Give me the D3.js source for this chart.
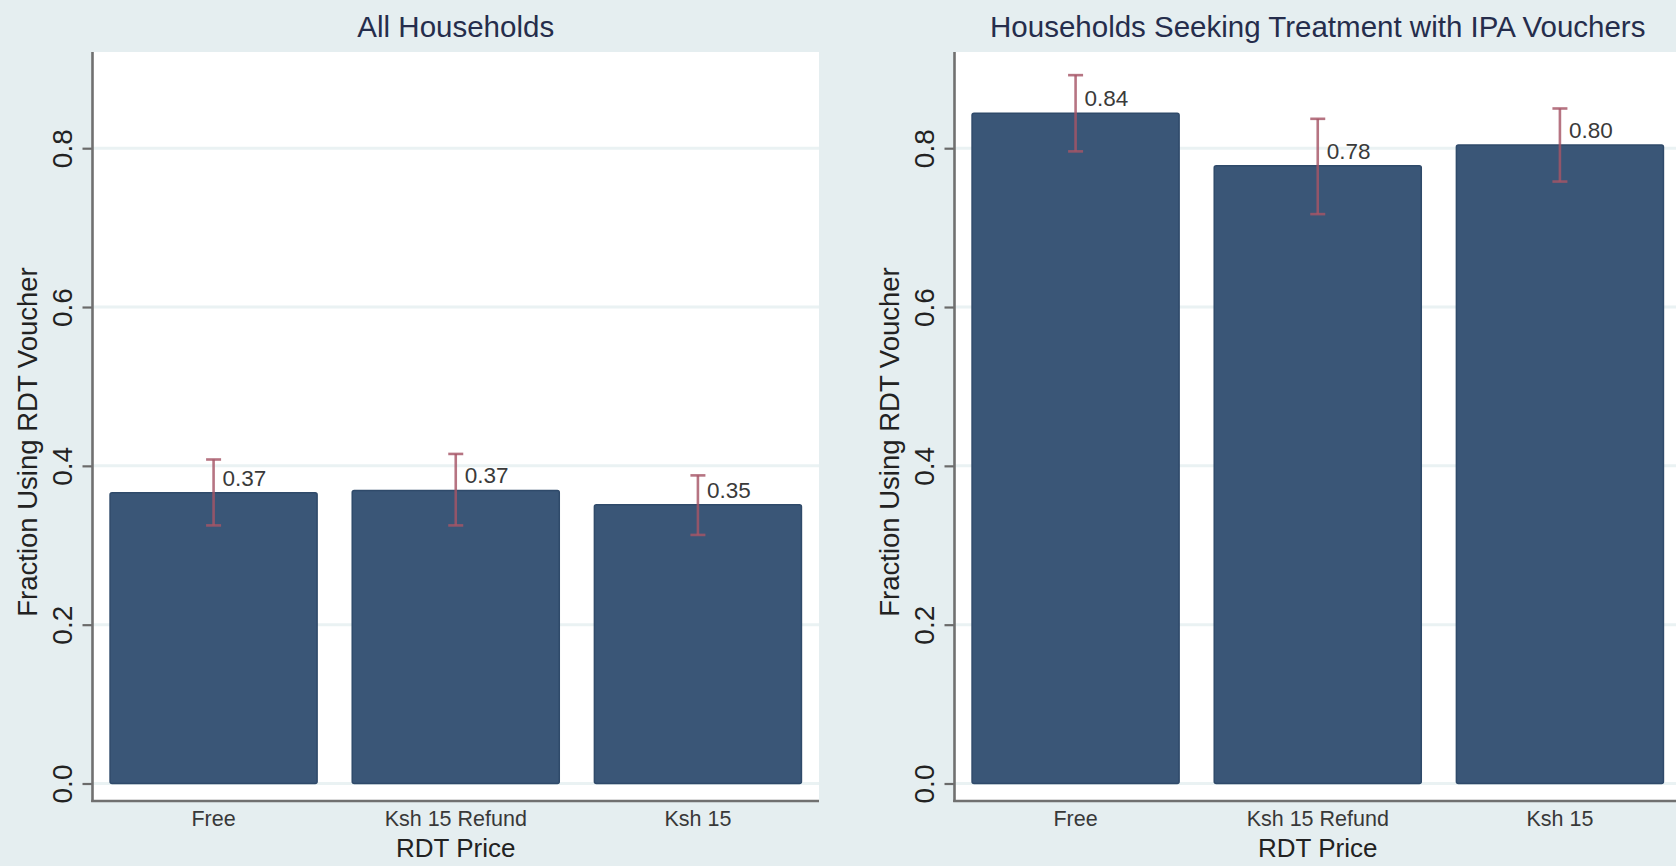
<!DOCTYPE html>
<html>
<head>
<meta charset="utf-8">
<script src="https://cdn.jsdelivr.net/npm/d3@7"></script>
<style>
  html, body { margin: 0; padding: 0; background: #e5eef0; }
  svg { display: block; }
  text { font-family: "Liberation Sans", Arial, Helvetica, sans-serif; }
</style>
</head>
<body>
<svg id="chart" width="1676" height="866"></svg>
<script>
// Price arms and the share of households redeeming an RDT voucher
const categories = ["Free", "Ksh 15 Refund", "Ksh 15"];

const panelTitles = ["All Households", "Households Seeking Treatment with IPA Vouchers"];

// All households: mean and 95% confidence interval
const allMean = [0.366, 0.369, 0.351];
const allLow  = [0.325, 0.325, 0.313];
const allHigh = [0.408, 0.415, 0.388];

// Households seeking treatment with IPA vouchers
const seekMean = [0.844, 0.778, 0.804];
const seekLow  = [0.796, 0.717, 0.758];
const seekHigh = [0.892, 0.837, 0.850];

const yTicks = [0, 0.2, 0.4, 0.6, 0.8];

const yTitle = "Fraction Using RDT Voucher";
const xTitle = "RDT Price";

const panels = [
  { title: panelTitles[0], mean: allMean, low: allLow, high: allHigh },
  { title: panelTitles[1], mean: seekMean, low: seekLow, high: seekHigh }
];

// Layout
const panelShift = 862;
const axisX = 92.5, plotRight = 819, plotTop = 52, xAxisY = 801;

const svg = d3.select("#chart");
svg.append("rect").attr("width", 1676).attr("height", 866).attr("fill", "#e5eef0");

const y = d3.scaleLinear().domain([0, 0.8]).range([783.5, 148.2]);
const x = d3.scaleBand().domain(categories).range([axisX, plotRight])
  .paddingInner(0.145).paddingOuter(0.0725);
const fmt = d3.format(".2f");

panels.forEach((p, pi) => {
  const g = svg.append("g").attr("transform", `translate(${pi * panelShift},0)`);

  // white plot region
  g.append("rect")
    .attr("x", axisX).attr("y", plotTop)
    .attr("width", plotRight - axisX).attr("height", xAxisY - plotTop)
    .attr("fill", "#ffffff");

  // horizontal gridlines
  g.selectAll("line.grid").data(yTicks).join("line")
    .attr("class", "grid")
    .attr("x1", axisX).attr("x2", plotRight)
    .attr("y1", d => y(d)).attr("y2", d => y(d))
    .attr("stroke", "#eaf2f3").attr("stroke-width", 3);

  // bars
  g.selectAll("rect.bar").data(categories).join("rect")
    .attr("class", "bar")
    .attr("x", d => x(d))
    .attr("width", x.bandwidth())
    .attr("y", (d, i) => y(p.mean[i]))
    .attr("height", (d, i) => y(0) - y(p.mean[i]))
    .attr("fill", "#3a5677")
    .attr("stroke", "#2f4a6a").attr("stroke-width", 1.5)
    .attr("rx", 2);

  // confidence interval whiskers
  const cx = d => x(d) + x.bandwidth() / 2;
  const eb = g.selectAll("g.err").data(categories).join("g").attr("class", "err")
    .attr("stroke", "#a65566").attr("stroke-width", 2.6).attr("stroke-opacity", 0.82);
  eb.append("line")
    .attr("x1", cx).attr("x2", cx)
    .attr("y1", (d, i) => y(p.high[i])).attr("y2", (d, i) => y(p.low[i]));
  eb.append("line")
    .attr("x1", d => cx(d) - 7.5).attr("x2", d => cx(d) + 7.5)
    .attr("y1", (d, i) => y(p.high[i])).attr("y2", (d, i) => y(p.high[i]));
  eb.append("line")
    .attr("x1", d => cx(d) - 7.5).attr("x2", d => cx(d) + 7.5)
    .attr("y1", (d, i) => y(p.low[i])).attr("y2", (d, i) => y(p.low[i]));

  // value labels
  g.selectAll("text.val").data(categories).join("text")
    .attr("class", "val")
    .attr("x", d => cx(d) + 9)
    .attr("y", (d, i) => y(p.mean[i]) - 7)
    .attr("font-size", 22.5).attr("fill", "#3a3a3a")
    .text((d, i) => fmt(p.mean[i]));

  // y axis
  const yAxis = d3.axisLeft(y).tickValues(yTicks).tickFormat(d3.format(".1f"))
    .tickSize(10).tickPadding(0);
  const ya = g.append("g").attr("transform", `translate(${axisX},0)`).call(yAxis);
  ya.select(".domain").remove();
  ya.selectAll(".tick line").attr("stroke", "#6a6a6a").attr("stroke-width", 2.2);
  ya.selectAll(".tick text")
    .attr("x", null).attr("dy", null)
    .attr("transform", "translate(-21,0) rotate(-90)")
    .attr("text-anchor", "middle")
    .attr("font-size", 28).attr("fill", "#222");
  g.append("line")
    .attr("x1", axisX).attr("x2", axisX).attr("y1", plotTop).attr("y2", xAxisY + 1)
    .attr("stroke", "#707070").attr("stroke-width", 2.6);

  // x axis
  const xAxis = d3.axisBottom(x).tickSize(0).tickPadding(0);
  const xa = g.append("g").attr("transform", `translate(0,${xAxisY})`).call(xAxis);
  xa.select(".domain").remove();
  xa.selectAll(".tick text")
    .attr("y", 25).attr("dy", null)
    .attr("font-size", 21.5).attr("fill", "#383838");
  g.append("line")
    .attr("x1", axisX - 1.3).attr("x2", plotRight).attr("y1", xAxisY).attr("y2", xAxisY)
    .attr("stroke", "#707070").attr("stroke-width", 2.6);

  // titles
  const midX = (axisX + plotRight) / 2;
  g.append("text")
    .attr("x", midX).attr("y", 37)
    .attr("text-anchor", "middle").attr("font-size", 29.5).attr("fill", "#252d4c")
    .text(p.title);
  g.append("text")
    .attr("x", midX).attr("y", 857)
    .attr("text-anchor", "middle").attr("font-size", 26).attr("fill", "#222")
    .text(xTitle);
  g.append("text")
    .attr("transform", `translate(37,442) rotate(-90)`)
    .attr("text-anchor", "middle").attr("font-size", 27.5).attr("fill", "#222")
    .text(yTitle);
});
</script>
</body>
</html>
